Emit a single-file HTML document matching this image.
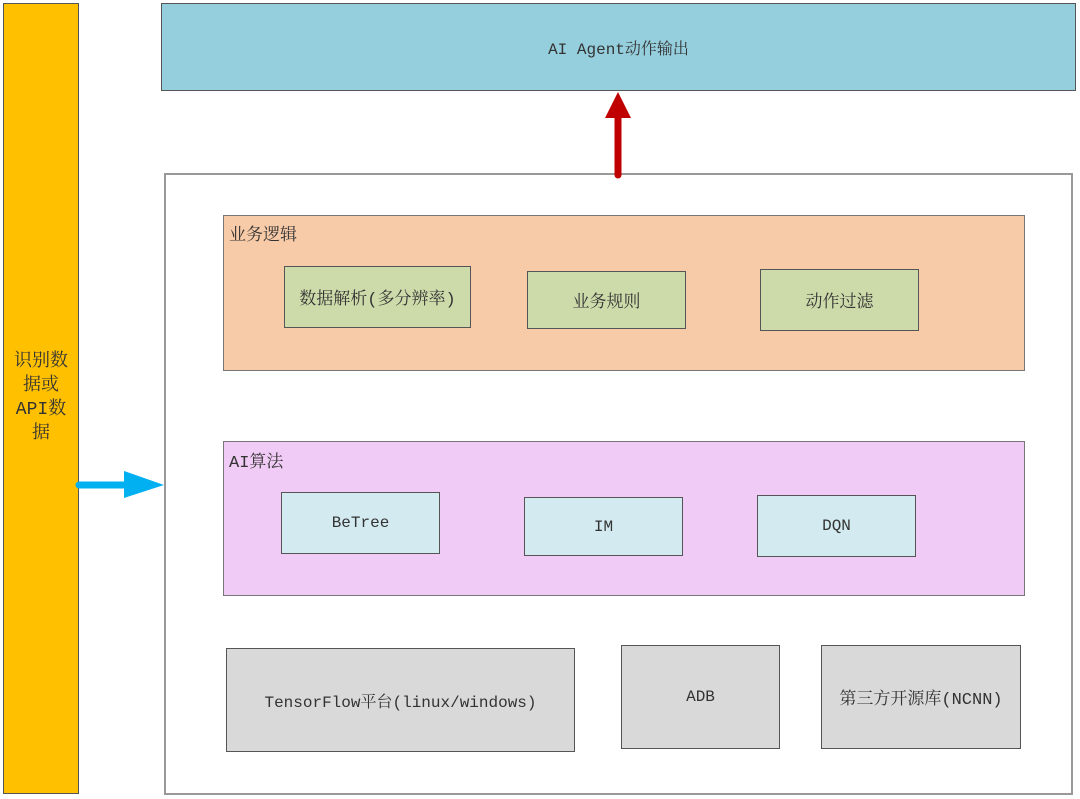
<!DOCTYPE html>
<html><head><meta charset="utf-8"><style>
body{margin:0;width:1080px;height:799px;background:#fff;position:relative;overflow:hidden;font-family:"Liberation Mono","Noto Serif CJK SC",monospace;color:#333}
.b{position:absolute;box-sizing:border-box;display:flex;align-items:center;justify-content:center;font-size:16px}
</style></head><body>
<div class="b" style="left:3px;top:3px;width:76px;height:791px;background:#ffc000;border:1px solid #555;font-size:18px;line-height:24px;text-align:center;padding:0 8px;align-items:flex-start;padding-top:346px">识别数据或API数据</div>
<div class="b" style="left:161px;top:3px;width:915px;height:88px;background:#95cfdd;border:1px solid #555">AI Agent动作输出</div>
<div class="b" style="left:164px;top:173px;width:909px;height:622px;border:2px solid #999"></div>
<div class="b" style="left:223px;top:215px;width:802px;height:156px;background:#f8cba8;border:1px solid #777"></div>
<div style="position:absolute;left:229px;top:220px;font-size:17px">业务逻辑</div>
<div class="b" style="left:284px;top:266px;width:187px;height:62px;background:#cddbaa;border:1px solid #555;font-size:17px">数据解析(多分辨率)</div>
<div class="b" style="left:527px;top:271px;width:159px;height:58px;background:#cddbaa;border:1px solid #555;font-size:17px">业务规则</div>
<div class="b" style="left:760px;top:269px;width:159px;height:62px;background:#cddbaa;border:1px solid #555;font-size:17px">动作过滤</div>
<div class="b" style="left:223px;top:441px;width:802px;height:155px;background:#f0cbf5;border:1px solid #777"></div>
<div style="position:absolute;left:229px;top:447px;font-size:17px">AI算法</div>
<div class="b" style="left:281px;top:492px;width:159px;height:62px;background:#d3ebf0;border:1px solid #555">BeTree</div>
<div class="b" style="left:524px;top:497px;width:159px;height:59px;background:#d3ebf0;border:1px solid #555">IM</div>
<div class="b" style="left:757px;top:495px;width:159px;height:62px;background:#d3ebf0;border:1px solid #555">DQN</div>
<div class="b" style="left:226px;top:648px;width:349px;height:104px;background:#d9d9d9;border:1px solid #555">TensorFlow平台(linux/windows)</div>
<div class="b" style="left:621px;top:645px;width:159px;height:104px;background:#d9d9d9;border:1px solid #555">ADB</div>
<div class="b" style="left:821px;top:645px;width:200px;height:104px;background:#d9d9d9;border:1px solid #555;font-size:17px">第三方开源库(NCNN)</div>
<svg style="position:absolute;left:0;top:0" width="1080" height="799">
<line x1="79" y1="485" x2="126" y2="485" stroke="#00b0f0" stroke-width="7" stroke-linecap="round"/>
<polygon points="124,471 164,485 124,498" fill="#00b0f0"/>
<line x1="618" y1="175" x2="618" y2="118" stroke="#c00000" stroke-width="7" stroke-linecap="round"/>
<polygon points="605,118 618,92 631,118" fill="#c00000"/>
</svg>
</body></html>
